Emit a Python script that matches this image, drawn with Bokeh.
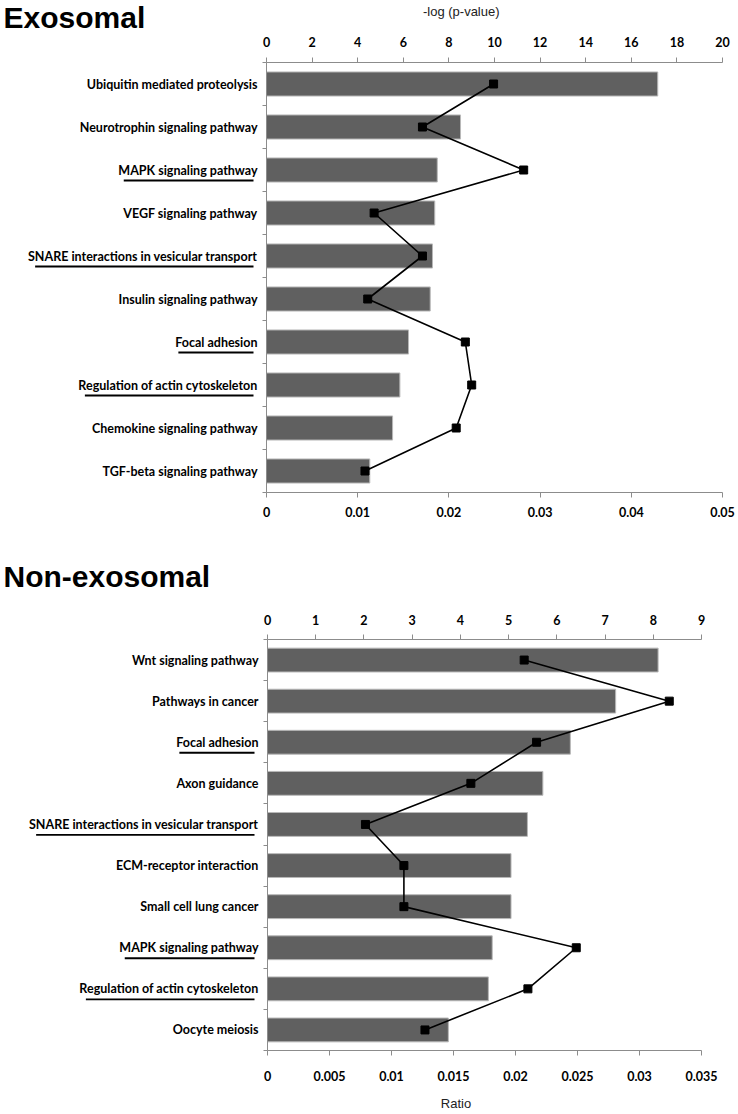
from bokeh.plotting import figure
from bokeh.layouts import column, row
from bokeh.models import Range1d, LinearAxis, FixedTicker, ColumnDataSource
from bokeh.core.properties import value
from bokeh.embed import file_html
from bokeh.resources import INLINE

# ---------------- data ----------------
top_axis_label = "-log (p-value)"
bottom_axis_label = "Ratio"

exo_title = "Exosomal"
exo_pathways = [
    "Ubiquitin mediated proteolysis",
    "Neurotrophin signaling pathway",
    "MAPK signaling pathway",
    "VEGF signaling pathway",
    "SNARE interactions in vesicular transport",
    "Insulin signaling pathway",
    "Focal adhesion",
    "Regulation of actin cytoskeleton",
    "Chemokine signaling pathway",
    "TGF-beta signaling pathway",
]
exo_neglog_p = [17.16, 8.51, 7.49, 7.38, 7.28, 7.18, 6.23, 5.85, 5.53, 4.53]
exo_ratio = [0.0249, 0.0171, 0.0282, 0.0118, 0.0171, 0.0111, 0.0218, 0.0225, 0.0208, 0.0108]
exo_underlined = [False, False, True, False, True, False, True, True, False, False]
exo_top_ticks = [0, 2, 4, 6, 8, 10, 12, 14, 16, 18, 20]
exo_ratio_ticks = [0, 0.01, 0.02, 0.03, 0.04, 0.05]
exo_ratio_tick_labels = ["0", "0.01", "0.02", "0.03", "0.04", "0.05"]

non_title = "Non-exosomal"
non_pathways = [
    "Wnt signaling pathway",
    "Pathways in cancer",
    "Focal adhesion",
    "Axon guidance",
    "SNARE interactions in vesicular transport",
    "ECM-receptor interaction",
    "Small cell lung cancer",
    "MAPK signaling pathway",
    "Regulation of actin cytoskeleton",
    "Oocyte meiosis",
]
non_neglog_p = [8.10, 7.22, 6.28, 5.71, 5.39, 5.05, 5.05, 4.66, 4.58, 3.75]
non_ratio = [0.0207, 0.0324, 0.0217, 0.0164, 0.0079, 0.0110, 0.0110, 0.0249, 0.0210, 0.0127]
non_underlined = [False, False, True, False, True, False, False, True, True, False]
non_top_ticks = [0, 1, 2, 3, 4, 5, 6, 7, 8, 9]
non_ratio_ticks = [0, 0.005, 0.01, 0.015, 0.02, 0.025, 0.03, 0.035]
non_ratio_tick_labels = ["0", "0.005", "0.01", "0.015", "0.02", "0.025", "0.03", "0.035"]

# ---------------- style ----------------
PAGE_W = 738
BAR_FILL = "#606060"
BAR_LINE = "#b8b8b8"
AXIS_GRAY = "#8c8c8c"
TICK_FONT = "Lato"
CAT_FONT_SIZE = 12.5
TITLE_FONT = "Liberation Sans"

# approximate Lato Bold advance widths (em), used to size the underlines
EM = {' ': 0.20, '-': 0.33, 'a': 0.51, 'b': 0.56, 'c': 0.47, 'd': 0.56, 'e': 0.52, 'f': 0.33,
      'g': 0.51, 'h': 0.56, 'i': 0.25, 'j': 0.25, 'k': 0.52, 'l': 0.25, 'm': 0.85, 'n': 0.56,
      'o': 0.56, 'p': 0.56, 'q': 0.56, 'r': 0.38, 's': 0.43, 't': 0.36, 'u': 0.56, 'v': 0.52,
      'w': 0.79, 'x': 0.51, 'y': 0.52, 'z': 0.45, 'A': 0.69, 'M': 0.86, 'R': 0.62, 'S': 0.53,
      'N': 0.74, 'E': 0.56, 'P': 0.60, 'K': 0.67, 'F': 0.55, 'C': 0.65, 'G': 0.71, 'I': 0.30}


def text_w(s, size):
    return sum(EM.get(c, 0.62) for c in s) * size


def blank_fig(w, h, **kw):
    p = figure(width=w, height=h, x_axis_location=None, y_axis_location=None,
               toolbar_location=None, output_backend="svg", outline_line_color=None,
               min_border_left=0, min_border_right=0, min_border_top=0, min_border_bottom=0,
               background_fill_color="white", border_fill_color="white", **kw)
    p.xgrid.visible = False
    p.ygrid.visible = False
    return p


def add_text(p, t, x, y, size, bold, align="left"):
    p.text(x=[x], y=[y], text=[t], text_font=value(TITLE_FONT), text_font_size=f"{size}px",
           text_font_style="bold" if bold else "normal", text_align=align,
           text_baseline="middle", text_color="black" if bold else "#222222")


def text_strip(w, h, items):
    """Thin strip holding axis-title texts, in pixel coordinates: (text, x, y, size)."""
    p = blank_fig(w, h, x_range=Range1d(0, w), y_range=Range1d(h, 0))
    for (t, x, y, size) in items:
        add_text(p, t, x, y, size, False, "center")
    return p


def make_panel(title, pathways, neglog_p, ratio, underlined, top_ticks, ratio_ticks,
               ratio_labels, geo, top_label=None, bottom_label=None):
    H, T, B = geo["H"], geo["T"], geo["B"]
    LW, FW = geo["label_w"], geo["frame_w"]
    HH, FH = geo["head_h"], geo["foot_h"]
    n = len(pathways)
    band = (H - T - B) / n
    centers = [i + 0.5 for i in range(n)]
    bounds = list(range(n + 1))
    src = ColumnDataSource(dict(y=centers, bar=neglog_p, ratio=ratio, name=pathways))

    # ---- left column: panel title + category names (with underlines) ----
    LH = HH + H + FH
    ft = HH + T  # frame top inside this row
    lab = blank_fig(LW, LH, x_range=Range1d(0, LW),
                    y_range=Range1d((LH - ft) / band, -ft / band))
    lab.text(x=LW - 1, y="y", text="name", source=src, text_font=value(TICK_FONT),
             text_font_style="bold", text_font_size=f"{CAT_FONT_SIZE}px", text_align="right",
             text_baseline="middle", text_color="black")
    ux0, ux1, uy = [], [], []
    for i, (name, u) in enumerate(zip(pathways, underlined)):
        if u:
            w = text_w(name, CAT_FONT_SIZE)
            ux0.append(LW - 1 - w + 2)
            ux1.append(LW - 1 - 4)
            uy.append(centers[i] + 10.5 / band)
    lab.segment(x0="x0", x1="x1", y0="y", y1="y",
                source=ColumnDataSource(dict(x0=ux0, x1=ux1, y=uy)),
                line_color="black", line_width=1.8)
    add_text(lab, title, 3, (geo["title_y"] - ft) / band, 30, True)

    # ---- chart ----
    CW = PAGE_W - LW
    p = figure(width=CW, height=H, x_range=Range1d(0, top_ticks[-1]), y_range=Range1d(n, 0),
               x_axis_location=None, y_axis_location=None, toolbar_location=None,
               output_backend="svg", min_border_left=8, min_border_right=CW - 8 - FW,
               min_border_top=T, min_border_bottom=B, outline_line_color=None,
               background_fill_color="white", border_fill_color="white")
    p.xgrid.visible = False
    p.ygrid.visible = False
    p.extra_x_ranges = {"ratio": Range1d(0, ratio_ticks[-1])}

    p.hbar(y="y", left=0, right="bar", height=geo["bar_h"], source=src,
           fill_color=BAR_FILL, line_color=BAR_LINE, line_width=1)
    p.line(x="ratio", y="y", source=src, x_range_name="ratio", line_color="black", line_width=1.6)
    p.scatter(x="ratio", y="y", source=src, x_range_name="ratio", marker="square", size=8,
              fill_color="black", line_color="black")

    def style_x(ax, standoff):
        ax.axis_line_color = AXIS_GRAY
        ax.major_tick_line_color = AXIS_GRAY
        ax.minor_tick_line_color = None
        ax.major_tick_out = 5
        ax.major_tick_in = 0
        ax.major_label_standoff = standoff
        ax.major_label_text_font = TICK_FONT
        ax.major_label_text_font_style = "bold"
        ax.major_label_text_font_size = "12.5px"
        ax.major_label_text_color = "black"

    top = LinearAxis(ticker=FixedTicker(ticks=top_ticks))
    style_x(top, geo["top_so"])
    p.add_layout(top, "above")

    bot = LinearAxis(x_range_name="ratio", ticker=FixedTicker(ticks=ratio_ticks),
                     major_label_overrides=dict(zip(ratio_ticks, ratio_labels)))
    style_x(bot, geo["bot_so"])
    p.add_layout(bot, "below")

    left = LinearAxis(ticker=FixedTicker(ticks=bounds),
                      major_label_overrides={b: "" for b in bounds})
    left.axis_line_color = AXIS_GRAY
    left.major_tick_line_color = AXIS_GRAY
    left.major_tick_out = 4
    left.major_tick_in = 0
    left.minor_tick_line_color = None
    left.major_label_standoff = 0
    left.major_label_text_font_size = "1px"
    p.add_layout(left, "left")

    right_items = []
    if HH:
        right_items.append(text_strip(CW, HH, [(top_label, geo["tl_x"] - LW, geo["tl_y"], 13)]
                                      if top_label else []))
    right_items.append(p)
    if FH:
        right_items.append(text_strip(CW, FH, [(bottom_label, geo["bl_x"] - LW, geo["bl_y"], 13)]
                                      if bottom_label else []))
    return row(lab, column(*right_items, spacing=0), spacing=0)


geo1 = dict(head_h=30, H=510, T=32, B=48, foot_h=0, label_w=258, frame_w=456, bar_h=0.56,
            top_so=11, bot_so=9, title_y=17, tl_x=463, tl_y=11)
geo2 = dict(head_h=56, H=490, T=43, B=36, foot_h=26, label_w=259, frame_w=434, bar_h=0.58,
            top_so=10, bot_so=15, title_y=36, bl_x=467, bl_y=17)

panel1 = make_panel(exo_title, exo_pathways, exo_neglog_p, exo_ratio, exo_underlined,
                    exo_top_ticks, exo_ratio_ticks, exo_ratio_tick_labels, geo1,
                    top_label=top_axis_label)
panel2 = make_panel(non_title, non_pathways, non_neglog_p, non_ratio, non_underlined,
                    non_top_ticks, non_ratio_ticks, non_ratio_tick_labels, geo2,
                    bottom_label=bottom_axis_label)

layout = column(panel1, panel2, spacing=0)
open("out.html", "w").write(file_html(layout, INLINE))
